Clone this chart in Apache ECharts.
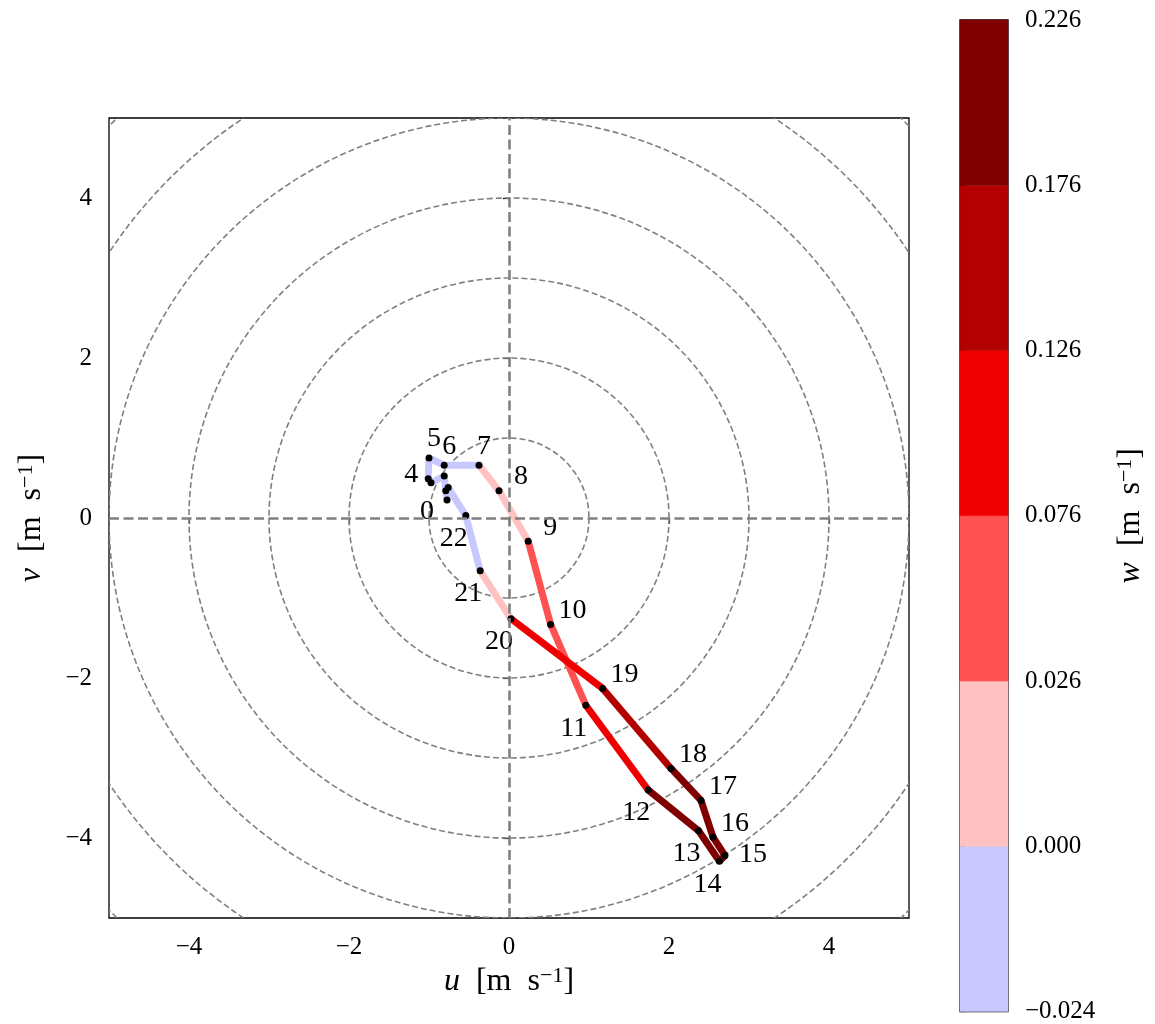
<!DOCTYPE html>
<html><head><meta charset="utf-8">
<script src="https://cdn.jsdelivr.net/npm/echarts@6/dist/echarts.min.js"></script>
<style>html,body{margin:0;padding:0;background:#fff}#c{width:1155px;height:1024px}</style>
</head><body><div id="c"></div>
<script>
// hour labels (hidden ones left blank as in the reference)
const hourLabels = ['0','','','','4','5','6','7','8','9','10','11','12','13','14','15','16','17','18','19','20','21','22',''];
// hodograph wind components [m s^-1]
const uWind = [-0.775,-0.79,-0.81,-0.975,-1.01,-1.0,-0.81,-0.375,-0.125,0.24,0.52,0.96,1.74,2.37,2.63,2.70,2.55,2.40,2.025,1.17,0.025,-0.36,-0.54,-0.76];
const vWind = [0.225,0.34,0.525,0.44,0.49,0.75,0.66,0.66,0.34,-0.29,-1.33,-2.34,-3.40,-3.91,-4.29,-4.22,-3.99,-3.53,-3.13,-2.13,-1.26,-0.66,0.03,0.38];
// vertical velocity for each segment i -> i+1 [m s^-1]
const wSeg = [-0.012,-0.010,-0.008,-0.006,-0.005,-0.004,-0.002,0.012,0.020,0.045,0.065,0.100,0.200,0.215,0.210,0.205,0.195,0.185,0.150,0.100,0.010,-0.006,-0.010];
const axisTicks = [-4,-2,0,2,4];
const ringRadii = [1,2,3,4,5,6,7];
const wBounds = [-0.024,0.000,0.026,0.076,0.126,0.176,0.226];
const wTickLabels = ['\u22120.024','0.000','0.026','0.076','0.126','0.176','0.226'];
const wColors = ['#c8c8ff','#ffc1c1','#ff5151','#ef0000','#b30000','#7f0000'];
// label placement (style only)
const labelSide = ['wsw','','','','w','n','n','n','ne','ne','ne','sw','sw','sw','sw','e','ne','ne','ne','ne','sw','sw','sw',''];
const sideOffset = {n:[5,-19], ne:[22,-14], e:[28,-1], sw:[-12,23], w:[-17,-4], wsw:[-20,12]};

const FONT = 'Liberation Serif';
function colorFor(w){
  for (let k = 0; k < wColors.length; k++) {
    if (w < wBounds[k+1]) return wColors[k];
  }
  return wColors[wColors.length-1];
}
const minus = s => String(s).replace('-', '\u2212');

const segData = [];
for (let i = 0; i < uWind.length - 1; i++) {
  segData.push([uWind[i], vWind[i], uWind[i+1], vWind[i+1], wSeg[i]]);
}
const dotData = uWind.map((u, i) => ({
  value: [u, vWind[i]],
  label: {
    show: hourLabels[i] !== '',
    formatter: hourLabels[i],
    offset: sideOffset[labelSide[i]] || [0,0]
  }
}));

const richName = {
  it: {fontFamily: FONT, fontSize: 32, fontStyle: 'italic', color: '#000'},
  n: {fontFamily: FONT, fontSize: 32, color: '#000'},
  sup: {fontFamily: FONT, fontSize: 22, color: '#000', verticalAlign: 'top', padding: [0,0,12,0]}
};
const nameText = v => '{it|' + v + '}{n|\u2002[m\u2002s}{sup|\u22121}{n|]}';
const tickFont = {fontFamily: FONT, fontSize: 25, color: '#000'};

const chart = echarts.init(document.getElementById('c'));
chart.setOption({
  animation: false,
  backgroundColor: '#fff',
  grid: [
    {left: 109, top: 118, width: 800, height: 800, show: true, borderColor: '#000', borderWidth: 1.3, backgroundColor: 'transparent'},
    {left: 960, top: 20, width: 48, height: 996, show: true, borderColor: '#000', borderWidth: 1.3, backgroundColor: 'transparent'}
  ],
  xAxis: [
    {type: 'value', gridIndex: 0, min: -5, max: 5,
     axisLine: {show: false}, splitLine: {show: false},
     axisTick: {show: true, customValues: axisTicks, length: 6, lineStyle: {color: '#000', width: 1.2}},
     axisLabel: Object.assign({customValues: axisTicks, formatter: minus, margin: 17}, tickFont),
     name: nameText('u'), nameLocation: 'middle', nameGap: 46,
     nameTextStyle: {rich: richName}},
    {type: 'value', gridIndex: 1, min: 0, max: 1, show: false}
  ],
  yAxis: [
    {type: 'value', gridIndex: 0, min: -5, max: 5,
     axisLine: {show: false}, splitLine: {show: false},
     axisTick: {show: true, customValues: axisTicks, length: 6, lineStyle: {color: '#000', width: 1.2}},
     axisLabel: Object.assign({customValues: axisTicks, formatter: minus, margin: 17}, tickFont),
     name: nameText('v'), nameLocation: 'middle', nameGap: 60, nameRotate: 90,
     nameTextStyle: {rich: richName}},
    {type: 'value', gridIndex: 1, min: 0, max: 6, interval: 1, position: 'right',
     axisLine: {show: false}, splitLine: {show: false},
     axisTick: {show: true, length: 6, lineStyle: {color: '#000', width: 1.2}},
     axisLabel: Object.assign({formatter: v => wTickLabels[v], margin: 17}, tickFont),
     name: nameText('w'), nameLocation: 'middle', nameGap: 106, nameRotate: 90,
     nameTextStyle: {rich: richName}}
  ],
  series: [
    {type: 'custom', name: 'rings', xAxisIndex: 0, yAxisIndex: 0, clip: true, z: 1,
     data: ringRadii.map(r => [0, 0, r]),
     encode: {x: 0, y: 1},
     renderItem: (params, api) => {
       const c = api.coord([api.value(0), api.value(1)]);
       const rpx = api.size([api.value(2), 0])[0];
       return {type: 'circle', shape: {cx: c[0], cy: c[1], r: rpx},
               style: {fill: 'none', stroke: '#808080', lineWidth: 1.6, lineDash: [6, 3]}};
     },
     markLine: {silent: true, symbol: ['none','none'], label: {show: false},
       lineStyle: {color: '#808080', width: 2.6, type: [10, 4.5]},
       data: [{xAxis: 0}, {yAxis: 0}]}
    },
    {type: 'custom', name: 'path', xAxisIndex: 0, yAxisIndex: 0, z: 3,
     data: segData, encode: {x: [0, 2], y: [1, 3]},
     renderItem: (params, api) => {
       const p0 = api.coord([api.value(0), api.value(1)]);
       const p1 = api.coord([api.value(2), api.value(3)]);
       return {type: 'line', shape: {x1: p0[0], y1: p0[1], x2: p1[0], y2: p1[1]},
               style: {stroke: colorFor(api.value(4)), lineWidth: 7, lineCap: 'butt'}};
     }},
    {type: 'scatter', name: 'hours', xAxisIndex: 0, yAxisIndex: 0, z: 4,
     symbol: 'circle', symbolSize: 7, itemStyle: {color: '#000', opacity: 1},
     label: {show: true, position: 'inside', align: 'center', verticalAlign: 'middle',
             fontFamily: FONT, fontSize: 28, color: '#000', opacity: 1},
     emphasis: {disabled: true},
     data: dotData},
    {type: 'custom', name: 'colorbar', xAxisIndex: 1, yAxisIndex: 1, z: 2,
     data: wColors.map((c, k) => [0, k]), encode: {x: 0, y: 1},
     renderItem: (params, api) => {
       const k = api.value(1);
       const a = api.coord([0, k]);
       const b = api.coord([1, k + 1]);
       return {type: 'rect', shape: {x: a[0], y: b[1], width: b[0] - a[0], height: a[1] - b[1]},
               style: {fill: wColors[k], stroke: wColors[k], lineWidth: 0.5}};
     }}
  ]
});
</script>
</body></html>
